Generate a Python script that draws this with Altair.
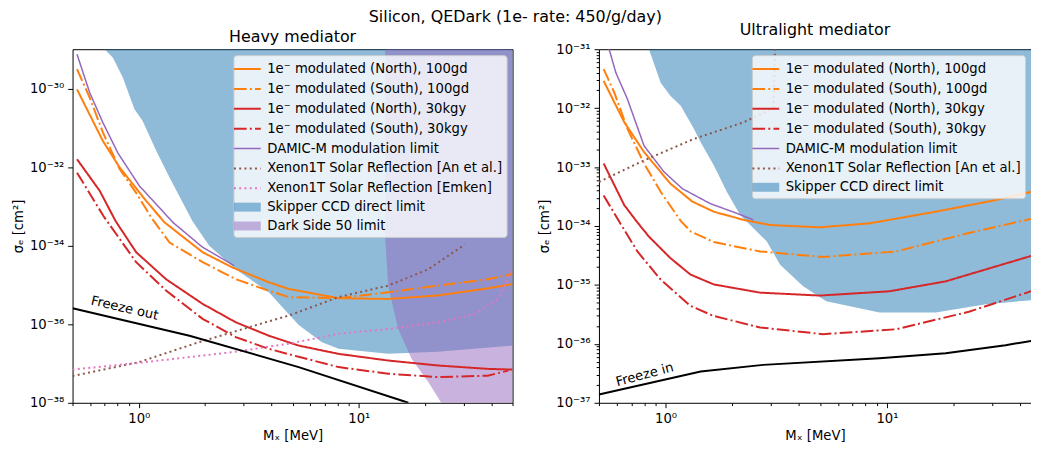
import altair as alt
import pandas as pd

# ---------------- series names ----------------
N100 = "1e⁻ modulated (North), 100gd"
S100 = "1e⁻ modulated (South), 100gd"
N30 = "1e⁻ modulated (North), 30kgy"
S30 = "1e⁻ modulated (South), 30kgy"
DAMIC = "DAMIC-M modulation limit"
XAN = "Xenon1T Solar Reflection [An et al.]"
XEM = "Xenon1T Solar Reflection [Emken]"
SKIP = "Skipper CCD direct limit"
DS50 = "Dark Side 50 limit"

# ---------------- heavy mediator (left panel) ----------------
H_N100_X = [0.524, 0.687, 0.818, 1.08, 1.31, 1.95, 2.66, 3.9, 4.81, 8.09, 13.6, 22.9, 38.6, 50]
H_N100_Y = [9.5e-31, 4.6e-32, 9.8e-33, 1.38e-33, 3.9e-34, 6.8e-35, 2.8e-35, 1.17e-35, 7.9e-36, 4.6e-36, 4.4e-36, 5.4e-36, 8.2e-36, 1.05e-35]
H_S100_X = [0.524, 0.598, 0.687, 0.818, 0.973, 1.14, 1.38, 1.95, 2.76, 3.9, 4.81, 8.09, 13.6, 22.9, 38.6, 50]
H_S100_Y = [3.1e-30, 5.9e-31, 7.6e-32, 8.9e-33, 2.2e-33, 5.2e-34, 1.2e-34, 3.8e-35, 1.4e-35, 7.1e-36, 4.9e-36, 4.6e-36, 6.5e-36, 9.6e-36, 1.4e-35, 1.9e-35]
H_N30_X = [0.524, 0.664, 0.785, 0.973, 1.33, 1.95, 2.76, 3.9, 5.33, 8.09, 13.6, 22.9, 38.6, 50]
H_N30_Y = [1.58e-32, 2.5e-33, 4.2e-34, 6.8e-35, 1.4e-35, 3.3e-36, 1.12e-36, 5.1e-37, 2.86e-37, 1.76e-37, 1.19e-37, 8.9e-38, 7.3e-38, 7.0e-38]
H_S30_X = [0.524, 0.692, 0.973, 1.33, 1.95, 2.76, 3.9, 5.33, 8.09, 13.6, 22.9, 38.6, 47.8]
H_S30_Y = [7.2e-33, 5.6e-34, 3.8e-35, 7.2e-36, 1.37e-36, 4.7e-37, 2.36e-37, 1.48e-37, 8.1e-38, 5.5e-38, 4.5e-38, 4.9e-38, 6.6e-38]
H_DAMIC_X = [0.524, 0.598, 0.687, 0.803, 1.007, 1.24, 1.43, 1.95, 2.71]
H_DAMIC_Y = [7.4e-30, 7.9e-31, 1.35e-31, 2.3e-32, 3.3e-33, 9.3e-34, 3.9e-34, 9.1e-35, 3.1e-35]
H_XAN_X = [0.5, 1.0, 1.88, 3.77, 4.81, 8.09, 13.6, 20.7, 30.3]
H_XAN_Y = [4.8e-38, 1.08e-37, 3.5e-37, 1.12e-36, 1.66e-36, 4.9e-36, 9.6e-36, 2.5e-35, 1.07e-34]
H_XEM_X = [0.5, 1.0, 2.66, 4.81, 8.09, 13.6, 22.9, 33.6, 42.9, 47.6, 49.2]
H_XEM_Y = [7.0e-38, 1.04e-37, 1.94e-37, 3.2e-37, 5.7e-37, 7.6e-37, 1.12e-36, 1.8e-36, 4.4e-36, 1.4e-35, 2.2e-35]
H_FREEZE_X = [0.5, 1.7, 5.33, 16.8]
H_FREEZE_Y = [2.55e-36, 5.1e-37, 8.1e-38, 1.0e-38]
H_SKIP_X = [0.70, 0.763, 0.846, 0.956, 1.04, 1.2, 1.38, 1.755, 2.09, 2.76, 3.9, 5.33, 6.8, 8.09, 13.6, 22.9, 50]
H_SKIP_Y = [1e-29, 6.1e-30, 1.9e-30, 2.96e-31, 1.5e-31, 2.6e-32, 5.4e-33, 4.2e-34, 1.0e-34, 2.5e-35, 6.5e-36, 9.6e-37, 3.5e-37, 2.36e-37, 1.76e-37, 1.98e-37, 2.86e-37]
H_DS_X = [13.17, 13.2, 13.6, 15.1, 17.4, 20.7, 23.7, 50]
H_DS_Y = [1e-29, 1.5e-34, 9.6e-36, 7.6e-37, 1.31e-37, 3.4e-38, 1.0e-38, 1.0e-38]
H_TEXT = ["Freeze out"]
H_TEXT_X = [0.862]
H_TEXT_Y = [2.55e-36]
H_XDOM = [0.5, 50]
H_YDOM = [1e-38, 1e-29]
H_YTICKS = [1e-38, 1e-36, 1e-34, 1e-32, 1e-30]

# ---------------- ultralight mediator (right panel) ----------------
U_N100_X = [0.525, 0.65, 0.799, 1.05, 1.32, 1.65, 2.25, 2.96, 4.97, 8.34, 16.6, 30.9, 44.7, 50]
U_N100_Y = [2.9e-32, 5.8e-33, 1.8e-33, 5.25e-34, 2.6e-34, 1.75e-34, 1.27e-34, 1.04e-34, 9.5e-35, 1.11e-34, 1.75e-34, 2.75e-34, 3.8e-34, 4.2e-34]
U_S100_X = [0.525, 0.586, 0.672, 0.799, 0.95, 1.17, 1.3, 1.65, 2.67, 5.14, 11, 23.4, 44.7, 50]
U_S100_Y = [4.6e-32, 1.85e-32, 4.5e-33, 1.15e-33, 3.8e-34, 1.22e-34, 8.05e-35, 5.35e-35, 3.7e-35, 2.98e-35, 3.7e-35, 7.6e-35, 1.32e-34, 1.45e-34]
U_N30_X = [0.525, 0.65, 0.746, 0.841, 1.05, 1.295, 1.65, 2.67, 4.97, 10.25, 18.4, 44.7, 50]
U_N30_Y = [1.15e-33, 2.27e-34, 1.15e-34, 6.6e-35, 2.86e-35, 1.5e-35, 1.02e-35, 7.4e-36, 6.6e-36, 7.8e-36, 1.15e-35, 3.1e-35, 3.4e-35]
U_S30_X = [0.525, 0.617, 0.746, 0.95, 1.295, 1.65, 2.67, 5.14, 11, 23.4, 44.7, 50]
U_S30_Y = [3.3e-34, 1.19e-34, 3.7e-35, 1.23e-35, 4.4e-36, 2.97e-36, 1.9e-36, 1.46e-36, 1.77e-36, 3.5e-36, 7.8e-36, 9e-36]
U_DAMIC_X = [0.525, 0.556, 0.596, 0.672, 0.799, 0.983, 1.19, 1.59, 2.1, 2.49]
U_DAMIC_Y = [2.1e-31, 1e-31, 4.0e-32, 1.43e-32, 2.3e-33, 8.3e-34, 4.3e-34, 2.4e-34, 1.64e-34, 1.27e-34]
U_XAN_X = [0.5, 0.799, 1.34, 2.25, 3.07, 3.12]
U_XAN_Y = [5.6e-34, 1.3e-33, 3.0e-33, 5.75e-33, 1.0e-32, 1.0e-31]
U_FREEZE_X = [0.5, 1.44, 2.76, 9.25, 18.4, 34.3, 44.7, 50]
U_FREEZE_Y = [1.38e-37, 3.4e-37, 4.4e-37, 5.7e-37, 6.9e-37, 9.5e-37, 1.12e-36, 1.2e-36]
U_SKIP_X = [0.841, 0.95, 1.05, 1.17, 1.34, 1.44, 1.65, 1.89, 2.17, 2.86, 3.29, 4.18, 5.32, 9.25, 16.6, 27.9, 44.7, 50]
U_SKIP_Y = [1e-31, 2.7e-32, 1.63e-32, 1.1e-32, 4.5e-33, 2.65e-33, 1.07e-33, 3.8e-34, 1.54e-34, 5.5e-35, 2.2e-35, 9.5e-36, 5.3e-36, 3.4e-36, 3.4e-36, 4.7e-36, 5.5e-36, 5.6e-36]
U_TEXT = ["Freeze in"]
U_TEXT_X = [0.805]
U_TEXT_Y = [3.0e-37]
U_XDOM = [0.5, 44.7]          # the reference is cut at the right edge
U_YDOM = [1e-37, 1e-31]
U_YTICKS = [1e-37, 1e-36, 1e-35, 1e-34, 1e-33, 1e-32, 1e-31]

X_TICKS = [0.5, 0.6, 0.7, 0.8, 0.9, 1, 2, 3, 4, 5, 6, 7, 8, 9, 10, 20, 30, 40, 50]

# ---------------- styles ----------------
DASHDOT = [12.8, 3.2, 2, 3.2]
DOTTED = [2, 3.3]
SOLID = [1, 0]
LINE_SHAPE = "M-1.5,0H1.5"
PATCH_SHAPE = "M-1.5,-0.5H1.5V0.5H-1.5Z"
# stroke, dash, width, fill, legend shape
STYLE = {
    N100: ("#ff7f0e", SOLID, 2, "transparent", LINE_SHAPE),
    S100: ("#ff7f0e", DASHDOT, 2, "transparent", LINE_SHAPE),
    N30: ("#d62728", SOLID, 2, "transparent", LINE_SHAPE),
    S30: ("#d62728", DASHDOT, 2, "transparent", LINE_SHAPE),
    DAMIC: ("#9467bd", SOLID, 1.5, "transparent", LINE_SHAPE),
    XAN: ("#8c564b", DOTTED, 2, "transparent", LINE_SHAPE),
    XEM: ("#e377c2", DOTTED, 2, "transparent", LINE_SHAPE),
    SKIP: ("transparent", SOLID, 0, "rgba(31,119,180,0.5)", PATCH_SHAPE),
    DS50: ("transparent", SOLID, 0, "rgba(148,103,189,0.5)", PATCH_SHAPE),
}
FONT = "DejaVu Sans"

LOG = "(log(datum.value)/LN10)"
EXP = "round" + LOG
MAJOR = "abs(" + LOG + " - " + EXP + ") < 0.001"


def sup_expr(e):
    for ch, sp in [("-", "⁻"), ("−", "⁻"), ("0", "⁰"), ("1", "¹"), ("2", "²"), ("3", "³"),
                   ("4", "⁴"), ("5", "⁵"), ("6", "⁶"), ("7", "⁷"), ("8", "⁸"), ("9", "⁹")]:
        e = "replace(" + e + ", regexp('" + ch + "', 'g'), '" + sp + "')"
    return e


LABEL_EXPR = MAJOR + " ? '10' + " + sup_expr("('' + " + EXP + ")") + " : ''"


def make_axis(values, title):
    return alt.Axis(
        values=values, labelExpr=LABEL_EXPR, labelOverlap=False, grid=False,
        domain=True, domainColor="black", domainWidth=1,
        tickSize={"condition": {"test": MAJOR, "value": 4.9}, "value": 2.8},
        tickColor="black", tickWidth=1, labelColor="black", labelFont=FONT, labelFontSize=13.3,
        labelPadding=4, titleFont=FONT, titleFontSize=13.3, titleFontWeight="normal",
        titleColor="black", title=title,
    )


def spine(orient):
    return alt.Axis(orient=orient, labels=False, ticks=False, grid=False, domain=True,
                    domainColor="black", domainWidth=1, title=None, minExtent=0, maxExtent=0)


def y_values(major, minor):
    if not minor:
        return major
    vals = []
    for m in major:
        vals.append(m)
        if m < major[-1]:
            vals += [m * k for k in range(2, 10)]
    return vals


def panel(lines, freeze, areas, texts, xdom, ydom, yticks, minor_y, legend_dom, title,
          width, height, right_spine):
    xs_ = alt.Scale(type="log", domain=xdom, nice=False)
    ys_ = alt.Scale(type="log", domain=ydom, nice=False)
    x_main = alt.X("x:Q", scale=xs_, axis=make_axis(X_TICKS, "Mₓ [MeV]"))
    y_main = alt.Y("y:Q", scale=ys_, axis=make_axis(y_values(yticks, minor_y), "σₑ [cm²]"))
    x_none = alt.X("x:Q", scale=xs_, axis=None)
    y_none = alt.Y("y:Q", scale=ys_, axis=None)
    x_top = alt.X("x:Q", scale=xs_, axis=spine("top"))
    y_right = alt.Y("y:Q", scale=ys_, axis=spine("right")) if right_spine else y_none

    leg = alt.Legend(
        title=None, orient="top-right", offset=6, labelFont=FONT, labelFontSize=13.3,
        labelColor="black", labelLimit=500, symbolSize=324,
        symbolFillColor="transparent", fillColor="rgba(255,255,255,0.8)", strokeColor="#cccccc",
        cornerRadius=3, padding=4, rowPadding=3, labelOffset=10, symbolOffset=0,
    )
    dom = legend_dom
    sc_stroke = alt.Scale(domain=dom, range=[STYLE[s][0] for s in dom])
    sc_dash = alt.Scale(domain=dom, range=[STYLE[s][1] for s in dom])
    sc_width = alt.Scale(type="ordinal", domain=dom, range=[STYLE[s][2] for s in dom])
    sc_fill = alt.Scale(domain=dom, range=[STYLE[s][3] for s in dom])
    sc_shape = alt.Scale(domain=dom, range=[STYLE[s][4] for s in dom])

    layers = []
    for i, (name, xs, ys) in enumerate(areas):
        df = pd.DataFrame({"x": xs, "y": ys, "top": [ydom[1]] * len(xs), "series": name})
        layers.append(alt.Chart(df).mark_area(clip=True, strokeWidth=0).encode(
            x=x_main if i == 0 else x_none, y=y_main if i == 0 else y_none, y2="top:Q",
            fill=alt.Fill("series:N", scale=sc_fill, legend=leg)))
    ldf = pd.concat([pd.DataFrame({"x": xs, "y": ys, "series": name}) for name, xs, ys in lines])
    layers.append(alt.Chart(ldf).mark_line(clip=True).encode(
        x=x_none, y=y_none,
        stroke=alt.Stroke("series:N", scale=sc_stroke, legend=leg),
        strokeDash=alt.StrokeDash("series:N", scale=sc_dash, legend=leg),
        strokeWidth=alt.StrokeWidth("series:N", scale=sc_width, legend=leg),
    ))
    fx, fy = freeze
    layers.append(alt.Chart(pd.DataFrame({"x": fx, "y": fy})).mark_line(
        clip=True, color="black", strokeWidth=2).encode(x=x_top, y=y_right))
    tx, ty, tt, ang = texts
    layers.append(alt.Chart(pd.DataFrame({"x": tx, "y": ty, "label": tt})).mark_text(
        font=FONT, fontSize=13.3, color="black", angle=ang, align="center", baseline="middle")
        .encode(x=x_none, y=y_none, text="label:N"))
    # legend-only layer: gives each legend entry its symbol shape (no visible points)
    layers.append(alt.Chart(ldf).mark_point(opacity=1, filled=False).encode(
        x=x_none, y=y_none,
        shape=alt.Shape("series:N", scale=sc_shape, legend=leg),
        fill=alt.Fill("series:N", scale=sc_fill, legend=leg),
        stroke=alt.Stroke("series:N", scale=sc_stroke, legend=leg),
    ).transform_filter("false"))
    return alt.layer(*layers).resolve_axis(x="independent", y="independent").properties(
        width=width, height=height,
        title=alt.TitleParams(title, fontSize=16, font=FONT, fontWeight="normal", offset=4, color="black"),
    )


left = panel(
    [(N100, H_N100_X, H_N100_Y), (S100, H_S100_X, H_S100_Y), (N30, H_N30_X, H_N30_Y),
     (S30, H_S30_X, H_S30_Y), (DAMIC, H_DAMIC_X, H_DAMIC_Y), (XAN, H_XAN_X, H_XAN_Y),
     (XEM, H_XEM_X, H_XEM_Y)],
    (H_FREEZE_X, H_FREEZE_Y),
    [(SKIP, H_SKIP_X, H_SKIP_Y), (DS50, H_DS_X, H_DS_Y)],
    (H_TEXT_X, H_TEXT_Y, H_TEXT, 13),
    H_XDOM, H_YDOM, H_YTICKS, False,
    [N100, S100, N30, S30, DAMIC, XAN, XEM, SKIP, DS50],
    "Heavy mediator", 443, 356, True,
)
right = panel(
    [(N100, U_N100_X, U_N100_Y), (S100, U_S100_X, U_S100_Y), (N30, U_N30_X, U_N30_Y),
     (S30, U_S30_X, U_S30_Y), (DAMIC, U_DAMIC_X, U_DAMIC_Y), (XAN, U_XAN_X, U_XAN_Y)],
    (U_FREEZE_X, U_FREEZE_Y),
    [(SKIP, U_SKIP_X, U_SKIP_Y)],
    (U_TEXT_X, U_TEXT_Y, U_TEXT, 345),
    U_XDOM, U_YDOM, U_YTICKS, True,
    [N100, S100, N30, S30, DAMIC, XAN, SKIP],
    "Ultralight mediator", 435, 356, False,
)

chart = alt.hconcat(
    left, right, spacing=24,
    title=alt.TitleParams("Silicon, QEDark (1e- rate: 450/g/day)", fontSize=16, font=FONT,
                          fontWeight="normal", anchor="middle", offset=-3, dx=-6, color="black"),
).resolve_scale(
    x="independent", y="independent", stroke="independent", strokeDash="independent",
    strokeWidth="independent", fill="independent", shape="independent",
).resolve_legend(
    stroke="independent", strokeDash="independent", strokeWidth="independent",
    fill="independent", shape="independent",
).properties(
    padding={"left": 3, "top": 0, "right": 0, "bottom": 0}
).configure(font=FONT).configure_view(stroke=None)

chart.save("out.html", embed_options={"renderer": "svg", "actions": False})
